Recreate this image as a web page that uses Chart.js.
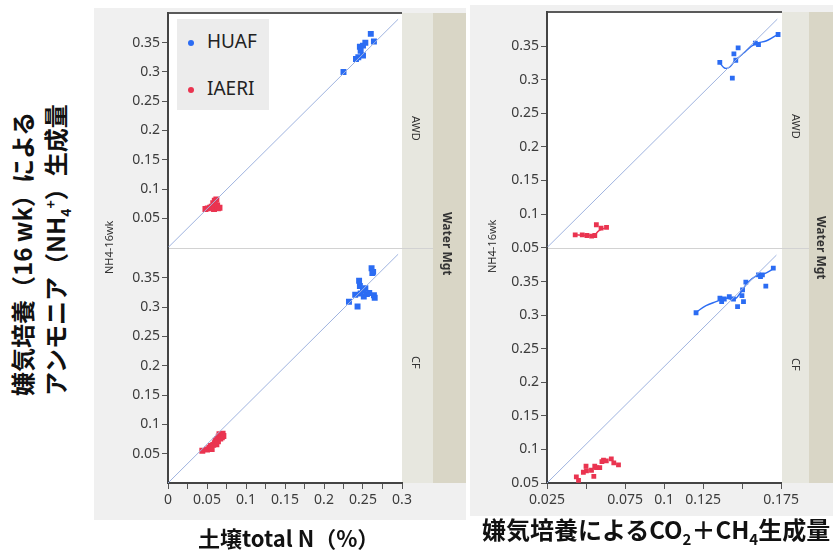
<!DOCTYPE html>
<html>
<head>
<meta charset="utf-8">
<script src="https://cdn.jsdelivr.net/npm/chart.js@4.4.1/dist/chart.umd.min.js"></script>
<style>
  body { margin: 0; background: #fff; }
  #wrap { position: relative; width: 833px; height: 551px; overflow: hidden; background: #fff; }
  #wrap div, #wrap canvas { position: absolute; }
  .panel { background: #f0f0f0; }
  .strip { background: #e7e7df; }
  .strip2 { background: #d9d6c6; }
  .plot { background: #fff; border-top: 2px solid #5a5a5a; box-sizing: border-box; }
  .sep { height: 1px; background: #d2d2d2; }
  .axl { background: #444; }
  .rot { transform-origin: left top; white-space: nowrap; }
  .small { font: 11px "Noto Sans", sans-serif; color: #333; }
  .ttl { font: 700 22px "Noto Sans CJK JP", sans-serif; color: #111; white-space: nowrap; }
  .lg { font: 19px "Noto Sans", sans-serif; color: #222; }
  .dot { width: 6px; height: 6px; border-radius: 3px; }
</style>
</head>
<body>
<div id="wrap">
  <!-- panel backgrounds -->
  <div class="panel" style="left:94px;top:8px;width:372px;height:512px"></div>
  <div class="panel" style="left:470px;top:5px;width:363px;height:511px"></div>

  <!-- strips left -->
  <div class="strip" style="left:402px;top:13px;width:31px;height:235px"></div>
  <div class="strip" style="left:402px;top:249px;width:31px;height:234px"></div>
  <div class="strip2" style="left:433px;top:13px;width:33px;height:470px"></div>
  <!-- strips right -->
  <div class="strip" style="left:782px;top:12px;width:27px;height:236px"></div>
  <div class="strip" style="left:782px;top:249px;width:27px;height:234px"></div>
  <div class="strip2" style="left:809px;top:12px;width:24px;height:471px"></div>

  <!-- plot areas -->
  <div class="plot" style="left:168px;top:12px;width:234px;height:471px"></div>
  <div class="plot" style="left:547px;top:11px;width:235px;height:472px"></div>
  <div class="sep" style="left:168px;top:248px;width:265px"></div>
  <div class="sep" style="left:547px;top:248px;width:262px"></div>
  <!-- axis lines -->
  <div class="axl" style="left:167px;top:12px;width:2px;height:472px"></div>
  <div class="axl" style="left:167px;top:482px;width:235px;height:2px"></div>
  <div class="axl" style="left:546px;top:11px;width:2px;height:473px"></div>
  <div class="axl" style="left:546px;top:482px;width:236px;height:2px"></div>

  <canvas id="cNa"></canvas>
  <canvas id="cNc"></canvas>
  <canvas id="cCa"></canvas>
  <canvas id="cCc"></canvas>

  <!-- strip labels -->
  <div class="small rot" style="left:424px;top:116px;transform:rotate(90deg)">AWD</div>
  <div class="small rot" style="left:424px;top:356px;transform:rotate(90deg)">CF</div>
  <div class="small rot" style="left:804px;top:114px;transform:rotate(90deg)">AWD</div>
  <div class="small rot" style="left:804px;top:358px;transform:rotate(90deg)">CF</div>
  <div class="small rot" style="left:456px;top:212px;transform:rotate(90deg);font-weight:700;font-size:12px">Water Mgt</div>
  <div class="small rot" style="left:830px;top:216px;transform:rotate(90deg);font-weight:700;font-size:12px">Water Mgt</div>

  <!-- NH4-16wk -->
  <div class="small rot" style="left:101px;top:274px;transform:rotate(-90deg)">NH4-16wk</div>
  <div class="small rot" style="left:484px;top:273px;transform:rotate(-90deg)">NH4-16wk</div>

  <!-- legend -->
  <div style="left:177px;top:19px;width:92px;height:91px;background:#ececec"></div>
  <div class="dot" style="left:188px;top:40px;background:#2b6cf3"></div>
  <div class="lg" style="left:207px;top:28px">HUAF</div>
  <div class="dot" style="left:188px;top:87px;background:#ea3450"></div>
  <div class="lg" style="left:207px;top:75px">IAERI</div>

  <!-- titles -->
  <div class="ttl rot" style="left:7px;top:396px;transform:rotate(-90deg);line-height:29px;font-size:24px">嫌気培養（16 wk）による<br>アンモニア（NH<sub style="font-size:14px">4</sub><sup style="font-size:14px">+</sup>）生成量</div>
  <div class="ttl" style="left:198px;top:521px">土壌total N（%）</div>
  <div class="ttl" style="left:482px;top:511px;font-size:24px">嫌気培養によるCO<sub style="font-size:15px">2</sub>＋CH<sub style="font-size:15px">4</sub>生成量</div>
</div>

<script>
// ---- data (x, NH4-16wk) ----
// soil total N panel
const huafAwdN = [[0.225,0.300],[0.241,0.322],[0.244,0.325],[0.246,0.343],[0.247,0.336],[0.250,0.328],[0.250,0.345],[0.253,0.350],[0.260,0.365],[0.264,0.352]];
const iaeriAwdN = [[0.048,0.066],[0.051,0.067],[0.054,0.068],[0.056,0.070],[0.058,0.076],[0.059,0.066],[0.060,0.080],[0.062,0.082],[0.063,0.072],[0.064,0.067],[0.066,0.068]];
const huafCfN = [[0.232,0.309],[0.243,0.301],[0.240,0.321],[0.245,0.345],[0.246,0.336],[0.247,0.323],[0.250,0.328],[0.251,0.318],[0.253,0.332],[0.255,0.322],[0.258,0.324],[0.261,0.366],[0.262,0.358],[0.263,0.360],[0.264,0.320],[0.265,0.316]];
const iaeriCfN = [[0.044,0.055],[0.050,0.057],[0.053,0.060],[0.055,0.063],[0.056,0.058],[0.058,0.065],[0.060,0.068],[0.061,0.072],[0.062,0.066],[0.063,0.075],[0.064,0.071],[0.065,0.079],[0.066,0.083],[0.067,0.076],[0.068,0.081],[0.069,0.078],[0.070,0.084],[0.071,0.080]];
const diagN = [[0, 0], [0.295, 0.39]];

// CO2 + CH4 panel
const huafAwdC = [[0.1353,0.3255],[0.1433,0.3022],[0.1443,0.3383],[0.1455,0.3288],[0.1470,0.3472],[0.1580,0.3542],[0.1600,0.3520],[0.1725,0.3671]];
const iaeriAwdC = [[0.0430,0.069],[0.0475,0.069],[0.0505,0.068],[0.0535,0.067],[0.0555,0.068],[0.0565,0.084],[0.0595,0.079],[0.0630,0.080]];
const huafCfC = [[0.1205,0.3040],[0.1358,0.3256],[0.1369,0.3205],[0.1386,0.3245],[0.1418,0.3280],[0.1445,0.3245],[0.1471,0.3130],[0.1499,0.3295],[0.1503,0.3380],[0.1509,0.3205],[0.1524,0.3496],[0.1605,0.3605],[0.1618,0.3580],[0.1630,0.3605],[0.1652,0.3436],[0.1700,0.3706]];
const iaeriCfC = [[0.0438,0.059],[0.0452,0.054],[0.0483,0.066],[0.0500,0.075],[0.0503,0.068],[0.0535,0.069],[0.0550,0.060],[0.0556,0.075],[0.0567,0.073],[0.0588,0.073],[0.0602,0.082],[0.0612,0.084],[0.0630,0.083],[0.0662,0.086],[0.0678,0.080],[0.0708,0.077]];
const diagC = [[0.025, 0.05], [0.172, 0.39]];
// smoothers
const huafAwdFit = [[0.1354,0.3243],[0.1386,0.3169],[0.1418,0.3192],[0.1450,0.3281],[0.1503,0.3391],[0.1578,0.3530],[0.1652,0.3578],[0.1726,0.3678]];
const iaeriAwdFit = [[0.0430,0.069],[0.0500,0.068],[0.0550,0.068],[0.0580,0.075],[0.0630,0.080]];
const huafCfFit = [[0.1205,0.3046],[0.1269,0.3145],[0.1333,0.3205],[0.1397,0.3256],[0.1450,0.3235],[0.1492,0.3346],[0.1534,0.3485],[0.1588,0.3586],[0.1641,0.3620],[0.1700,0.3695]];

const xTicksN = [0, 0.05, 0.1, 0.15, 0.2, 0.25, 0.3];
const xTicksC = [0.025, 0.075, 0.1, 0.125, 0.175];
const yTicks = [0.05, 0.1, 0.15, 0.2, 0.25, 0.3, 0.35];

const BLUE = '#2b6cf3';
const RED = '#ea3450';
const DIAG = '#9fb3df';

const fmt = v => String(parseFloat(v.toFixed(3)));
const inList = (v, list) => list.some(t => Math.abs(t - v) < 1e-6);
const pts = arr => arr.map(p => ({ x: p[0], y: p[1] }));

function scatterSet(arr, color, r) {
    return { data: pts(arr), backgroundColor: color, borderWidth: 0, pointStyle: 'rect', pointRadius: r, showLine: false };
}
function lineSet(arr, color, w, tension) {
    return { data: pts(arr), borderColor: color, borderWidth: w, pointRadius: 0, showLine: true, tension: tension || 0, fill: false };
}

function makeChart(id, box, o) {
    const cv = document.getElementById(id);
    cv.width = box.w;
    cv.height = box.h;
    cv.style.left = box.x + 'px';
    cv.style.top = box.y + 'px';
    const tickFont = { family: 'Noto Sans', size: 14 };
    return new Chart(cv, {
        type: 'scatter',
        data: { datasets: o.datasets },
        options: {
            responsive: false,
            animation: false,
            layout: { padding: { top: 10, right: 20, bottom: o.showX ? 0 : 10, left: 0 } },
            plugins: { legend: { display: false }, tooltip: { enabled: false } },
            scales: {
                x: {
                    type: 'linear', min: o.xMin, max: o.xMax, display: o.showX,
                    afterFit: s => { s.height = o.showX ? 35 : 0; },
                    ticks: {
                        stepSize: 0.025, maxTicksLimit: 100, autoSkip: false, maxRotation: 0,
                        color: '#3c3c3c', font: tickFont, padding: 3,
                        callback: v => inList(v, o.xLabels) ? fmt(v) : ''
                    },
                    grid: { drawOnChartArea: false, tickLength: 6, color: '#555' },
                    border: { color: '#444', width: 2 }
                },
                y: {
                    type: 'linear', min: o.yMin, max: 0.4,
                    afterFit: s => { s.width = 50; },
                    ticks: {
                        stepSize: 0.05, maxTicksLimit: 100, autoSkip: false,
                        color: '#3c3c3c', font: tickFont, padding: 2,
                        callback: v => inList(v, yTicks) ? fmt(v) : ''
                    },
                    grid: {
                        drawOnChartArea: false, tickLength: 6,
                        color: c => (c.tick && inList(c.tick.value, yTicks)) ? '#555' : 'rgba(0,0,0,0)'
                    },
                    border: { color: '#444', width: 2 }
                }
            }
        }
    });
}

// soil total N
makeChart('cNa', { x: 118, y: 3, w: 304, h: 255 }, {
    xMin: 0, xMax: 0.3, yMin: 0, xLabels: xTicksN, showX: false,
    datasets: [lineSet(diagN, DIAG, 1), scatterSet(iaeriAwdN, RED, 4.2), scatterSet(huafAwdN, BLUE, 4.2)]
});
makeChart('cNc', { x: 118, y: 238, w: 304, h: 280 }, {
    xMin: 0, xMax: 0.3, yMin: 0, xLabels: xTicksN, showX: true,
    datasets: [lineSet(diagN, DIAG, 1), scatterSet(iaeriCfN, RED, 4.2), scatterSet(huafCfN, BLUE, 4.2)]
});
// CO2 + CH4
makeChart('cCa', { x: 497, y: 2, w: 305, h: 256 }, {
    xMin: 0.025, xMax: 0.175, yMin: 0.05, xLabels: xTicksC, showX: false,
    datasets: [lineSet(diagC, DIAG, 1), lineSet(huafAwdFit, BLUE, 1.4, 0.4), lineSet(iaeriAwdFit, RED, 1.4, 0.3),
               scatterSet(iaeriAwdC, RED, 3.4), scatterSet(huafAwdC, BLUE, 3.4)]
});
makeChart('cCc', { x: 497, y: 238, w: 305, h: 280 }, {
    xMin: 0.025, xMax: 0.175, yMin: 0.05, xLabels: xTicksC, showX: true,
    datasets: [lineSet(diagC, DIAG, 1), lineSet(huafCfFit, BLUE, 1.4, 0.4),
               scatterSet(iaeriCfC, RED, 3.4), scatterSet(huafCfC, BLUE, 3.4)]
});
</script>
</body>
</html>
